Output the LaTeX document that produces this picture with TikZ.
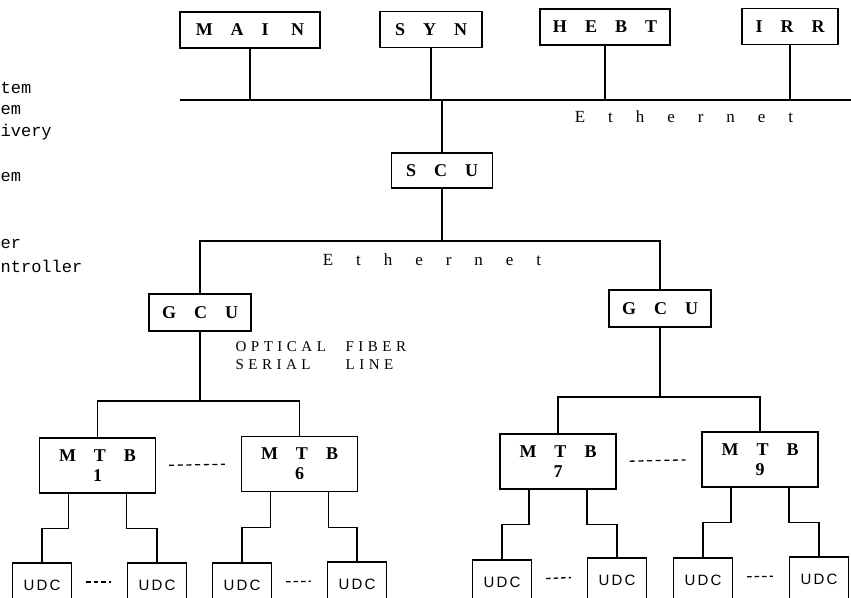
\documentclass[tikz,border=0pt]{standalone}
\usepackage{fontspec}
\setmainfont{Liberation Serif}
\setsansfont{Liberation Sans}
\setmonofont{Liberation Mono}
\newfontfamily\boxfont[LetterSpace=100]{Liberation Serif}
\newfontfamily\netfont[LetterSpace=135]{Liberation Serif}
\newfontfamily\fiberfont[LetterSpace=30]{Liberation Serif}
\newfontfamily\udcfont[LetterSpace=15]{Liberation Sans}
\usetikzlibrary{positioning}

\begin{document}
\begin{tikzpicture}[
  x=1pt, y=-1pt,
  line width=1.3pt,
  unitbox/.style={rectangle, draw, inner sep=0pt, minimum height=36pt,
                  align=center, font=\boxfont\bfseries\fontsize{18}{20}\selectfont},
  mtbbox/.style={unitbox, minimum width=116pt, minimum height=55pt},
  udcbox/.style={rectangle, draw, inner sep=0pt, minimum width=59pt, minimum height=44pt,
                 font=\udcfont\fontsize{15}{18}\selectfont},
  nettext/.style={font=\netfont\fontsize{17}{19}\selectfont},
  legtext/.style={anchor=west, inner sep=0pt, font=\ttfamily\fontsize{17}{19}\selectfont},
  dashrow/.style={dash pattern=on 5pt off 3.67pt, shorten <=13pt, shorten >=16pt},
  dashpair/.style={dash pattern=on 4.5pt off 3pt, shorten <=14pt, shorten >=16pt},
]
\useasboundingbox (0,0) rectangle (851,597);
\clip (0,0) rectangle (851,597);

\node[legtext] (lg1) at (0,88)  {tem};
\node[legtext] (lg2) at (0,110) {em};
\node[legtext] (lg3) at (0,132) {ivery};
\node[legtext] (lg4) at (0,177) {em};
\node[legtext] (lg5) at (0,244) {er};
\node[legtext] (lg6) at (0,266) {ntroller};

\node[unitbox, minimum width=140pt] (main) at (250,30)   {MAI N};
\node[unitbox, minimum width=102pt] (syn)  at (431,29.5) {SYN};
\node[unitbox, minimum width=130pt] (hebt) at (605,27)   {HEBT};
\node[unitbox, minimum width=96pt]  (irr)  at (790,26.5) {IRR};

\coordinate (busL) at (180,100);
\coordinate (busR) at (851,100);
\coordinate (busT) at (442,100);
\node[nettext] (eth1) at (684,117) {Ethernet};

\node[unitbox, minimum width=101pt, minimum height=35pt] (scu) at (442,170.5) {SCU};
\coordinate (bus2) at (442,241);
\node[nettext] (eth2) at (432,260) {Ethernet};

\node[unitbox, minimum width=102pt, minimum height=37pt] (gcuL) at (200,312.5) {GCU};
\node[unitbox, minimum width=102pt, minimum height=37pt] (gcuR) at (660,308.5) {GCU};
\node[anchor=west, inner sep=0pt, font=\fiberfont\fontsize{15}{18}\selectfont] (fiber) at (235,357)
  {\begin{tabular}{@{}p{110pt}@{}l@{}}OPTICAL & FIBER\\ SERIAL & LINE\end{tabular}};

\coordinate (brL) at (200,401);
\coordinate (brR) at (660,397);
\node[mtbbox] (mtb1) at (97.5,465.5) {MTB\\1};
\node[mtbbox] (mtb6) at (299.5,464)  {MTB\\6};
\node[mtbbox] (mtb7) at (558,461.5)  {MTB\\7};
\node[mtbbox] (mtb9) at (760,459.5)  {MTB\\9};

\node[udcbox] (u1a) at (42,585)  {UDC};
\node[udcbox] (u1b) at (157,585) {UDC};
\node[udcbox] (u6a) at (242,585) {UDC};
\node[udcbox] (u6b) at (357,584) {UDC};
\node[udcbox] (u7a) at (502,582) {UDC};
\node[udcbox] (u7b) at (617,580) {UDC};
\node[udcbox] (u9a) at (703,580) {UDC};
\node[udcbox] (u9b) at (819,579) {UDC};

\draw (busL) -- (busR);
\foreach \n in {main,syn,hebt,irr}
  \draw (\n) -- (\n |- busL);
\draw (busT) -- (scu);
\draw (scu) -- (bus2);
\draw (gcuL) |- (bus2) -| (gcuR);

\draw (gcuL) -- (brL);
\draw (mtb1) |- (brL) -| (mtb6);
\draw (gcuR) -- (brR);
\draw (mtb7) |- (brR) -| (mtb9);

\foreach \m/\a/\b in {mtb1/u1a/u1b, mtb6/u6a/u6b, mtb7/u7a/u7b, mtb9/u9a/u9b}{
  \draw ([xshift=-29pt]\m.south) -- ++(0,35) -| (\a);
  \draw ([xshift=29pt]\m.south) -- ++(0,35) -| (\b);
}

\draw[dashrow] (mtb1.east) -- (mtb6.west);
\draw[dashrow] (mtb7.east) -- (mtb9.west);
\foreach \a/\b in {u1a/u1b, u6a/u6b, u7a/u7b, u9a/u9b}
  \draw[dashpair] ([yshift=3pt]\a.east) -- ([yshift=3pt]\b.west);

\end{tikzpicture}
\end{document}
